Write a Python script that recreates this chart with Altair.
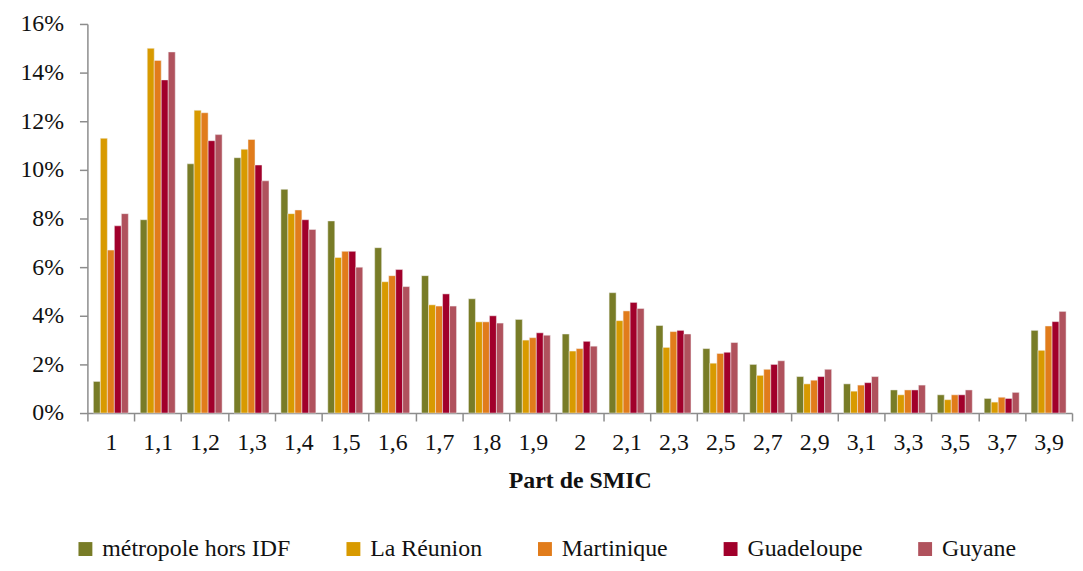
import altair as alt
import pandas as pd

categories = ["1", "1,1", "1,2", "1,3", "1,4", "1,5", "1,6", "1,7", "1,8", "1,9",
              "2", "2,1", "2,3", "2,5", "2,7", "2,9", "3,1", "3,3", "3,5", "3,7", "3,9"]
series = ["métropole hors IDF", "La Réunion", "Martinique", "Guadeloupe", "Guyane"]
colors = ["#787C27", "#D89A00", "#E17C1B", "#A1002B", "#B0525D"]

metropole = [1.3, 7.95, 10.25, 10.5, 9.2, 7.9, 6.8, 5.65, 4.7, 3.85, 3.25, 4.95, 3.6, 2.65, 2.0, 1.5, 1.2, 0.95, 0.75, 0.6, 3.4]
reunion = [11.3, 15.0, 12.45, 10.85, 8.2, 6.4, 5.4, 4.45, 3.75, 3.0, 2.55, 3.8, 2.7, 2.05, 1.55, 1.2, 0.9, 0.75, 0.55, 0.45, 2.58]
martinique = [6.7, 14.5, 12.35, 11.25, 8.35, 6.65, 5.65, 4.4, 3.75, 3.1, 2.65, 4.2, 3.35, 2.45, 1.8, 1.35, 1.15, 0.95, 0.75, 0.65, 3.58]
guadeloupe = [7.7, 13.7, 11.2, 10.2, 7.95, 6.65, 5.9, 4.9, 4.0, 3.3, 2.95, 4.55, 3.4, 2.5, 2.0, 1.5, 1.25, 0.95, 0.75, 0.6, 3.76]
guyane = [8.2, 14.85, 11.45, 9.55, 7.55, 6.0, 5.2, 4.4, 3.7, 3.2, 2.75, 4.3, 3.25, 2.9, 2.15, 1.8, 1.5, 1.15, 0.95, 0.85, 4.18]

y_ticks = [0, 0.02, 0.04, 0.06, 0.08, 0.10, 0.12, 0.14, 0.16]

rows = []
for s, vals in zip(series, [metropole, reunion, martinique, guadeloupe, guyane]):
    for c, v in zip(categories, vals):
        rows.append({"cat": c, "serie": s, "val": v / 100})
df = pd.DataFrame(rows)

FONT = "Liberation Serif"
FS = 24
W, H = 992, 392

chart = alt.Chart(df).mark_bar(stroke="#f2f2f2", strokeWidth=0.5).encode(
    x=alt.X("cat:N", sort=categories,
            scale=alt.Scale(paddingInner=0, paddingOuter=0),
            axis=alt.Axis(title="Part de SMIC", tickBand="extent",
                          labelAngle=0, labelFont=FONT, labelFontSize=FS, labelColor="#111",
                          labelPadding=10, tickSize=8, tickColor="#8c8c8c", domainColor="#8c8c8c",
                          domainWidth=1.5, tickWidth=1.5,
                          titleFont=FONT, titleFontSize=FS, titleFontWeight="bold",
                          titleColor="#111", titlePadding=14)),
    xOffset=alt.XOffset("serie:N", sort=series,
                        scale=alt.Scale(paddingInner=0, paddingOuter=0.85)),
    y=alt.Y("val:Q", scale=alt.Scale(domain=[0, 0.16], nice=False),
            axis=alt.Axis(format=".0%", values=y_ticks, title=None, grid=False,
                          labelFont=FONT, labelFontSize=FS, labelColor="#111",
                          tickSize=8, tickColor="#8c8c8c", domainColor="#8c8c8c",
                          domainWidth=1.5, tickWidth=1.5, labelPadding=16)),
    color=alt.Color("serie:N", sort=series,
                    scale=alt.Scale(domain=series, range=colors),
                    legend=alt.Legend(title=None, orient="none", legendX=-14, legendY=517,
                                      direction="horizontal", symbolType="square",
                                      symbolSize=196, symbolStrokeWidth=0,
                                      labelFont=FONT, labelFontSize=FS, labelColor="#111",
                                      labelLimit=400, columnPadding=51, labelOffset=5)),
).properties(
    width=W, height=H,
    autosize="none",
    padding={"left": 80, "top": 14, "right": 3, "bottom": 150},
).configure_view(stroke=None).configure_legend(labelFont=FONT, labelFontSize=FS, labelLimit=400)

chart.save("out.html", embed_options={"renderer": "svg", "actions": False})
